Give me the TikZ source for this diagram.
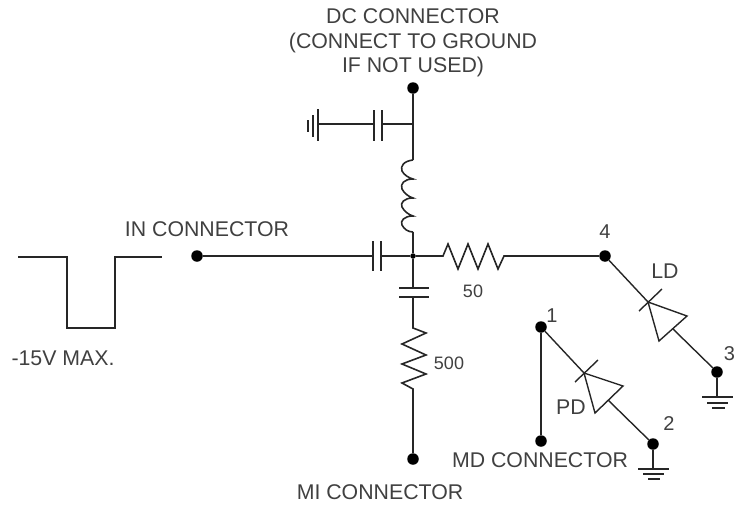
\documentclass[tikz,border=0pt]{standalone}
\usepackage{fontspec}
\setmainfont{Liberation Sans}
\tikzset{
  wire/.style={line width=1.6pt,draw=black!85},
  thinwire/.style={line width=1.4pt,draw=black!85},
  dotnode/.style={circle,fill=black,inner sep=0pt,minimum size=11.5pt},
  smalldot/.style={circle,fill=black,inner sep=0pt,minimum size=5.5pt},
  biglabel/.style={font=\fontsize{21.3pt}{25pt}\selectfont,text=black!75,inner sep=0pt,align=center},
  midlabel/.style={font=\fontsize{18pt}{22pt}\selectfont,text=black!75,inner sep=0pt},
  numlabel/.style={font=\fontsize{20pt}{24pt}\selectfont,text=black!75,inner sep=0pt},
}
\begin{document}
\begin{tikzpicture}[x=1pt,y=-1pt]
\useasboundingbox (0,0) rectangle (736,506);
% pulse
\coordinate (p0) at (18,257); \coordinate (p1) at (162,257);
\draw[wire] (p0) -- (67,257) -- (67,328) -- (115,328) -- (115,257) -- (p1);
% terminals
\node[dotnode] (in) at (197,256) {};
\node[dotnode] (dc) at (413,88) {};
\node[dotnode] (mi) at (413,459) {};
\node[dotnode] (n4) at (605,256) {};
\node[dotnode] (n3) at (717,372) {};
\node[dotnode] (n1) at (541,327) {};
\node[dotnode] (md) at (541,441) {};
\node[dotnode] (n2) at (653,444) {};
\node[smalldot] (j) at (413,256) {};
% DC line
\coordinate (t) at (413,124);
\coordinate (lt) at (413,160);
\coordinate (lb) at (413,232);
\draw[wire] (dc) -- (t) -- (lt);
\draw[wire] (lb) -- (j);
% inductor
\draw[wire] (lt) .. controls (404,161) and (400,166) .. (402,171) .. controls (404,175) and (409,178) .. (413,179)
 .. controls (404,179) and (400,184) .. (402,189) .. controls (404,193) and (409,197) .. (413,198)
 .. controls (404,198) and (400,203) .. (402,207) .. controls (404,211) and (409,215) .. (413,216)
 .. controls (404,216) and (400,221) .. (402,225) .. controls (404,229) and (408,232) .. (lb);
% shunt cap to ground
\coordinate (ga) at (318,124); \coordinate (ca) at (374,124); \coordinate (cb) at (382,124);
\draw[wire] (ga) -- (ca);
\draw[wire] (cb) -- (t);
\draw[wire] (374,110) -- (374,141);
\draw[wire] (382,110) -- (382,141);
\draw[wire] (318,109) -- (318,141);
\draw[wire] (313,115) -- (313,137);
\draw[wire] (308,120) -- (308,132);
% in cap
\coordinate (ia) at (373,256); \coordinate (ib) at (381,256);
\draw[wire] (in) -- (ia);
\draw[wire] (ib) -- (j);
\draw[wire] (373,241) -- (373,271);
\draw[wire] (381,241) -- (381,271);
% 50 ohm
\draw[wire] (j) -- (443,256) -- (448,244) -- (458,269) -- (468,244) -- (478,269) -- (488,244) -- (498,269) -- (504,256) -- (n4);
% lower cap and 500 ohm
\coordinate (cc) at (413,288); \coordinate (cd) at (413,297);
\draw[wire] (j) -- (cc);
\draw[wire] (399,288) -- (429,288);
\draw[wire] (399,297) -- (429,297);
\draw[wire] (cd) -- (413,328) -- (426,333) -- (402,344) -- (426,355) -- (402,364) -- (426,374) -- (402,383) -- (413,389) -- (mi);
% LD
\coordinate (lda) at (648,302); \coordinate (ldm) at (673,329);
\draw[thinwire] (n4) -- (lda);
\draw[thinwire] (ldm) -- (n3);
\draw[thinwire] (639,311) -- (662,289);
\draw[thinwire,line join=miter] (lda) -- (687,316) -- (659,341) -- cycle;
% LD ground
\coordinate (g3) at (717,397);
\draw[wire] (n3) -- (g3);
\draw[wire] (702,397) -- (733,397);
\draw[wire] (707,403) -- (728,403);
\draw[wire] (712,408) -- (725,408);
% PD
\coordinate (pda) at (584,373); \coordinate (pdm) at (608,400);
\draw[wire] (n1) -- (md);
\draw[thinwire] (n1) -- (pda);
\draw[thinwire] (pdm) -- (n2);
\draw[thinwire] (575,382) -- (598,360);
\draw[thinwire,line join=miter] (pda) -- (623,386) -- (595,413) -- cycle;
% PD ground
\coordinate (g2) at (653,469);
\draw[wire] (n2) -- (g2);
\draw[wire] (638,469) -- (669,469);
\draw[wire] (643,474) -- (664,474);
\draw[wire] (648,479) -- (660,479);
% labels
\node[biglabel] (dcl) at (413,43) {DC CONNECTOR\\[-0.5pt](CONNECT TO GROUND\\[-0.5pt]IF NOT USED)};
\node[biglabel] (inl) at (207,229) {IN CONNECTOR};
\node[biglabel] (v) at (63,358) {-15V MAX.};
\node[biglabel] (mil) at (380,492) {MI CONNECTOR};
\node[biglabel] (mdl) at (540,460) {MD CONNECTOR};
\node[biglabel] (ld) at (665,271) {LD};
\node[biglabel] (pd) at (571,407) {PD};
\node[midlabel] (r50) at (473,291) {50};
\node[midlabel] (r500) at (449,363) {500};
\node[numlabel] (l1) at (552,316) {1};
\node[numlabel] (l2) at (669,424) {2};
\node[numlabel] (l3) at (729.5,354) {3};
\node[numlabel] (l4) at (605,232) {4};
\end{tikzpicture}
\end{document}
